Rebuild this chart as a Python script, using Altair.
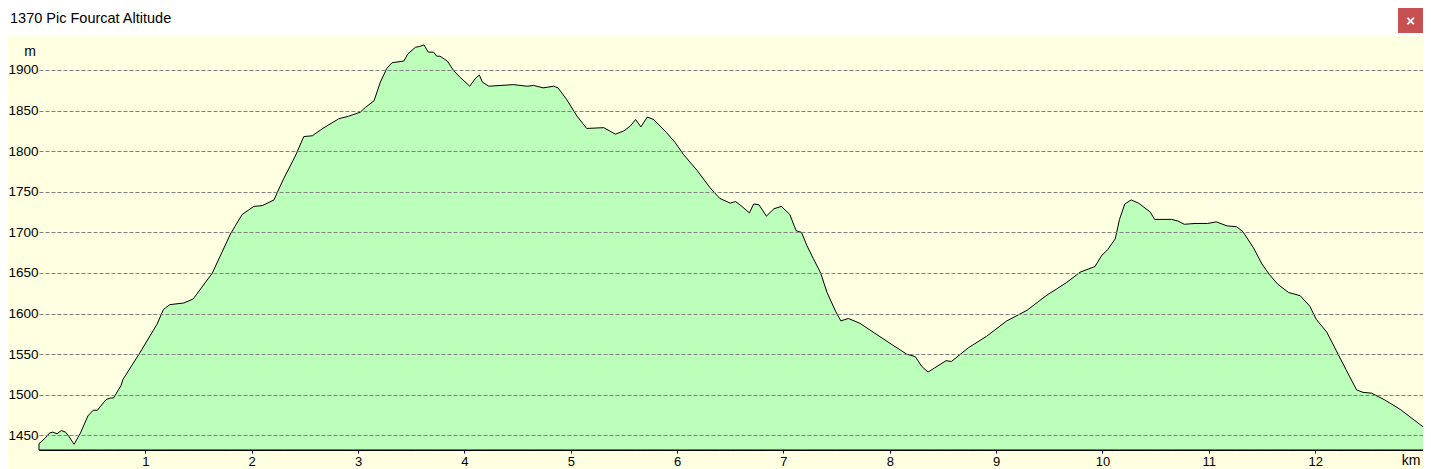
import altair as alt
import pandas as pd

# ---- data (distance in km, altitude in m) ----
km = [0.00, 0.02, 0.06, 0.10, 0.13, 0.17, 0.21, 0.25, 0.28, 0.33, 0.39, 0.46, 0.51, 0.55,
      0.58, 0.63, 0.67, 0.70, 0.77, 0.79, 0.95, 1.11, 1.17, 1.23, 1.36, 1.45, 1.63, 1.80,
      1.91, 2.02, 2.10, 2.21, 2.24, 2.30, 2.41, 2.49, 2.57, 2.68, 2.82, 2.91, 3.02, 3.07,
      3.15, 3.21, 3.27, 3.32, 3.43, 3.47, 3.54, 3.58, 3.62, 3.66, 3.71, 3.74, 3.77, 3.84,
      3.90, 3.96, 4.05, 4.10, 4.14, 4.17, 4.23, 4.46, 4.59, 4.65, 4.74, 4.84, 4.88, 4.96,
      5.06, 5.15, 5.31, 5.42, 5.50, 5.56, 5.61, 5.66, 5.72, 5.78, 5.84, 5.90, 5.98, 6.06,
      6.19, 6.31, 6.40, 6.50, 6.55, 6.61, 6.68, 6.72, 6.77, 6.84, 6.91, 6.98, 7.06, 7.12,
      7.17, 7.22, 7.28, 7.35, 7.41, 7.49, 7.54, 7.61, 7.72, 7.88, 8.03, 8.16, 8.24, 8.30,
      8.36, 8.42, 8.53, 8.58, 8.74, 8.91, 9.10, 9.29, 9.47, 9.66, 9.79, 9.93, 9.99, 10.05,
      10.12, 10.16, 10.21, 10.27, 10.34, 10.45, 10.49, 10.65, 10.71, 10.77, 10.87, 10.99,
      11.07, 11.17, 11.26, 11.32, 11.42, 11.50, 11.57, 11.65, 11.75, 11.86, 11.95, 12.01,
      12.11, 12.20, 12.29, 12.39, 12.45, 12.53, 12.65, 12.80, 12.89, 12.98, 13.05, 13.07]
altitude = [1440, 1442, 1447, 1453, 1454, 1452, 1456, 1454, 1449, 1439, 1453, 1474, 1481, 1481,
            1486, 1494, 1496, 1496, 1511, 1519, 1552, 1587, 1605, 1611, 1613, 1618, 1650, 1698,
            1722, 1732, 1733, 1740, 1749, 1766, 1794, 1818, 1819, 1829, 1840, 1843, 1848, 1854,
            1862, 1885, 1902, 1909, 1911, 1920, 1928, 1929, 1931, 1922, 1922, 1917, 1917, 1911,
            1899, 1891, 1880, 1889, 1894, 1885, 1880, 1882, 1880, 1881, 1878, 1880, 1878, 1864,
            1843, 1828, 1829, 1821, 1825, 1831, 1839, 1830, 1842, 1839, 1831, 1823, 1811, 1796,
            1776, 1755, 1742, 1736, 1738, 1732, 1724, 1735, 1734, 1720, 1729, 1732, 1722, 1702,
            1700, 1684, 1668, 1650, 1626, 1603, 1591, 1594, 1588, 1574, 1561, 1550, 1547, 1535,
            1528, 1533, 1542, 1541, 1558, 1572, 1591, 1604, 1622, 1638, 1651, 1658, 1671, 1679,
            1692, 1716, 1735, 1740, 1736, 1725, 1716, 1716, 1714, 1710, 1711, 1711,
            1713, 1708, 1707, 1701, 1681, 1661, 1648, 1636, 1626, 1622, 1609, 1593,
            1577, 1554, 1531, 1506, 1503, 1502, 1494, 1482, 1473, 1464, 1457, 1451]
y_ticks = [1450, 1500, 1550, 1600, 1650, 1700, 1750, 1800, 1850, 1900]
x_ticks = [1, 2, 3, 4, 5, 6, 7, 8, 9, 10, 11, 12]
window_title = "1370 Pic Fourcat Altitude"
y_unit = "m"
x_unit = "km"

df = pd.DataFrame({"km": km, "alt": altitude})
one = pd.DataFrame({"a": [0]})

W, H = 1384, 412
X_DOM = [0, 13.014]
Y_DOM = [1432, 1939.4]
FONT = "Liberation Sans"
BG = "#FFFFE1"

xs = alt.Scale(domain=X_DOM, nice=False, zero=False)
ys = alt.Scale(domain=Y_DOM, nice=False, zero=False)

area = alt.Chart(df).mark_area(
    fill="#BBFFBB", stroke="black", strokeWidth=1, interpolate="linear"
).encode(
    x=alt.X("km:Q", scale=xs, axis=alt.Axis(
        values=x_ticks, format="d", title=None, grid=False,
        domain=True, domainColor="black", domainWidth=1,
        ticks=True, tickColor="#0000CC", tickSize=3, tickWidth=1,
        labelFont=FONT, labelFontSize=13, labelColor="black", labelPadding=2,
        labelFlush=False, zindex=1)),
    y=alt.Y("alt:Q", scale=ys, axis=alt.Axis(
        values=y_ticks, format="d", title=None, grid=True, gridColor="#808080",
        gridDash=[4, 2], gridWidth=1, domain=False, ticks=False,
        labelFont=FONT, labelFontSize=13.5, labelColor="black", labelPadding=1,
        zindex=1)),
    y2=alt.datum(Y_DOM[0]),
)

title_bar = alt.Chart(one).mark_rect(fill="white").encode(
    x=alt.value(-31), x2=alt.value(1390), y=alt.value(-30), y2=alt.value(-2))
title_txt = alt.Chart(one).mark_text(
    text=window_title, font=FONT, fontSize=14.5, color="black", align="left", baseline="middle"
).encode(x=alt.value(-29), y=alt.value(-19))
close_btn = alt.Chart(one).mark_rect(fill="#C75050").encode(
    x=alt.value(1359), x2=alt.value(1384), y=alt.value(-30), y2=alt.value(-5))
close_x = alt.Chart(one).mark_text(
    text="×", font=FONT, fontSize=15, fontWeight="bold", color="white", align="center", baseline="middle"
).encode(x=alt.value(1371.5), y=alt.value(-17.5))
m_txt = alt.Chart(one).mark_text(
    text=y_unit, font=FONT, fontSize=14, color="black", align="center", baseline="middle"
).encode(x=alt.value(-9), y=alt.value(14))
km_txt = alt.Chart(one).mark_text(
    text=x_unit, font=FONT, fontSize=14, color="black", align="center", baseline="middle"
).encode(x=alt.value(1372), y=alt.value(423))

chart = alt.layer(area, title_bar, title_txt, close_btn, close_x, m_txt, km_txt).properties(
    width=W, height=H, autosize="none",
    padding={"left": 31, "top": 30, "right": 0, "bottom": 19},
    background=BG,
).configure_view(stroke=None)

chart.save("out.html", embed_options={"renderer": "svg", "actions": False})
